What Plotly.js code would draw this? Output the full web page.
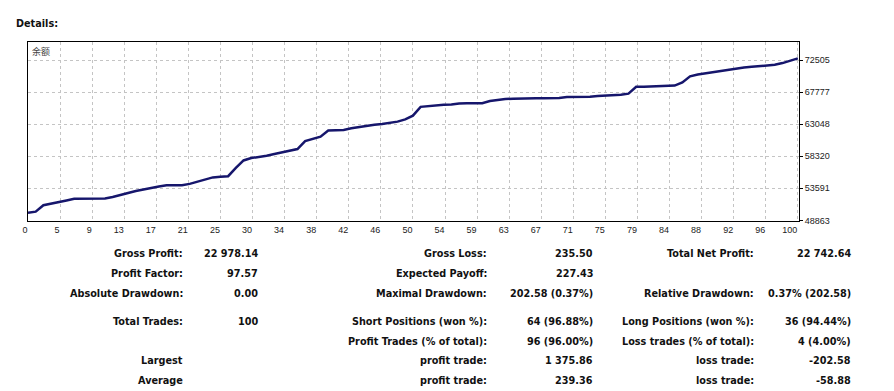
<!DOCTYPE html>
<html>
<head>
<meta charset="utf-8">
<script src="https://cdn.plot.ly/plotly-3.0.1.min.js"></script>
<style>
html,body{margin:0;padding:0;background:#fff;}
#chart{width:894px;height:391px;}
</style>
</head>
<body>
<div id="chart"></div>
<script>
// ---- data ----
const tradeNo = [0,1,2,3,4,5,6,7,8,9,10,11,12,13,14,15,16,17,18,19,20,21,22,23,24,25,26,27,28,29,30,31,32,33,34,35,36,37,38,39,40,41,42,43,44,45,46,47,48,49,50,51,52,53,54,55,56,57,58,59,60,61,62,63,64,65,66,67,68,69,70,71,72,73,74,75,76,77,78,79,80,81,82,83,84,85,86,87,88,89,90,91,92,93,94,95,96,97,98,99,100];
const balance = [50000,50150,51100,51300,51600,51800,52050,52070,52080,52090,52100,52300,52650,52900,53200,53450,53650,53850,54030,54050,54060,54250,54550,54850,55200,55300,55380,56600,57700,58050,58200,58400,58650,58900,59100,59380,60550,60850,61200,62100,62140,62200,62450,62650,62800,62950,63080,63250,63420,63750,64300,65600,65720,65850,65920,65940,66100,66120,66130,66140,66450,66650,66750,66800,66850,66860,66870,66870,66880,66890,67050,67060,67070,67080,67200,67230,67260,67400,67550,68550,68580,68600,68680,68720,68730,69200,70100,70380,70550,70780,70900,71060,71230,71400,71500,71620,71690,71800,72050,72400,72742];
const xTickLabels = ['0','5','9','13','17','21','25','30','34','38','42','46','50','54','59','63','67','71','75','79','84','88','92','96','100'];
const yTickValues = [48863,53591,58320,63048,67777,72505];
const seriesName = '余额';
const heading = 'Details:';

const statLabels1 = ['Gross Profit:','Profit Factor:','Absolute Drawdown:','Total Trades:','','Largest','Average'];
const statValues1 = ['22 978.14','97.57','0.00','100','','',''];
const statLabels2 = ['Gross Loss:','Expected Payoff:','Maximal Drawdown:','Short Positions (won %):','Profit Trades (% of total):','profit trade:','profit trade:'];
const statValues2 = ['235.50','227.43','202.58 (0.37%)','64 (96.88%)','96 (96.00%)','1 375.86','239.36'];
const statLabels3 = ['Total Net Profit:','','Relative Drawdown:','Long Positions (won %):','Loss trades (% of total):','loss trade:','loss trade:'];
const statValues3 = ['22 742.64','','0.37% (202.58)','36 (94.44%)','4 (4.00%)','-202.58','-58.88'];

// ---- layout helpers (pixel -> paper) ----
const W = 894, H = 391;
const M = {l:28, r:95, t:42, b:170};
const PW = W - M.l - M.r, PH = H - M.t - M.b;
const px = x => (x - M.l) / PW;
const py = y => (H - M.b - y) / PH;

const rowY = [253.3, 273.3, 293.3, 321.7, 341, 360.7, 380.7];
const cols = [
  {labels: statLabels1, values: statValues1, lx: 182.7, vx: 258.3},
  {labels: statLabels2, values: statValues2, lx: 486.7, vx: 592.7},
  {labels: statLabels3, values: statValues3, lx: 754.0, vx: 851.0}
];

const tableFont = {family:'DejaVu Sans, Verdana, sans-serif', size:9.7, color:'#111'};
const annotations = [];
cols.forEach(c => {
  c.labels.forEach((t, i) => {
    if (t) annotations.push({text:'<b>'+t+'</b>', xref:'paper', yref:'paper', x:px(c.lx), y:py(rowY[i]),
      xanchor:'right', yanchor:'middle', showarrow:false, font:tableFont, borderpad:0, borderwidth:0});
  });
  c.values.forEach((t, i) => {
    if (t) annotations.push({text:'<b>'+t+'</b>', xref:'paper', yref:'paper', x:px(c.vx), y:py(rowY[i]),
      xanchor:'right', yanchor:'middle', showarrow:false, font:tableFont, borderpad:0, borderwidth:0});
  });
});
annotations.push({text:'<b>'+heading+'</b>', xref:'paper', yref:'paper', x:px(16), y:py(23.5),
  xanchor:'left', yanchor:'middle', showarrow:false, font:tableFont, borderpad:0, borderwidth:0});
annotations.push({text:seriesName, xref:'paper', yref:'paper', x:px(31.5), y:py(51.5),
  xanchor:'left', yanchor:'middle', showarrow:false, font:{family:'Noto Sans CJK SC, sans-serif', size:9, color:'#444'}, borderpad:0, borderwidth:0});

const tickPos = xTickLabels.map((_, k) => k * 100 / (xTickLabels.length - 1));

const trace = {
  x: tradeNo, y: balance, type:'scatter', mode:'lines',
  line:{color:'#16166c', width:2.5}, hoverinfo:'skip', showlegend:false
};

const layout = {
  width:W, height:H, margin:M,
  paper_bgcolor:'#fff', plot_bgcolor:'#fff',
  font:{family:'Liberation Sans, Arial, sans-serif', size:9, color:'#222'},
  showlegend:false,
  xaxis:{
    range:[0,100.15], tickmode:'array', tickvals:tickPos, ticktext:xTickLabels,
    showgrid:true, gridcolor:'#c4c4c4', gridwidth:1, griddash:'3px,3px',
    zeroline:false, showline:true, linecolor:'#000', linewidth:1, mirror:true,
    ticks:'', ticklabelposition:'outside left', tickfont:{size:9, color:'#222'}, fixedrange:true
  },
  yaxis:{
    range:[48775,75159], side:'right', tickmode:'array', tickvals:yTickValues,
    ticktext:yTickValues.map(String),
    showgrid:true, gridcolor:'#c4c4c4', gridwidth:1, griddash:'3px,3px',
    zeroline:false, showline:true, linecolor:'#000', linewidth:1, mirror:true,
    ticks:'outside', ticklen:3, tickcolor:'#000', tickfont:{size:9, color:'#222'}, fixedrange:true
  },
  annotations: annotations
};

Plotly.newPlot('chart', [trace], layout, {displayModeBar:false, staticPlot:true});
</script>
</body>
</html>
